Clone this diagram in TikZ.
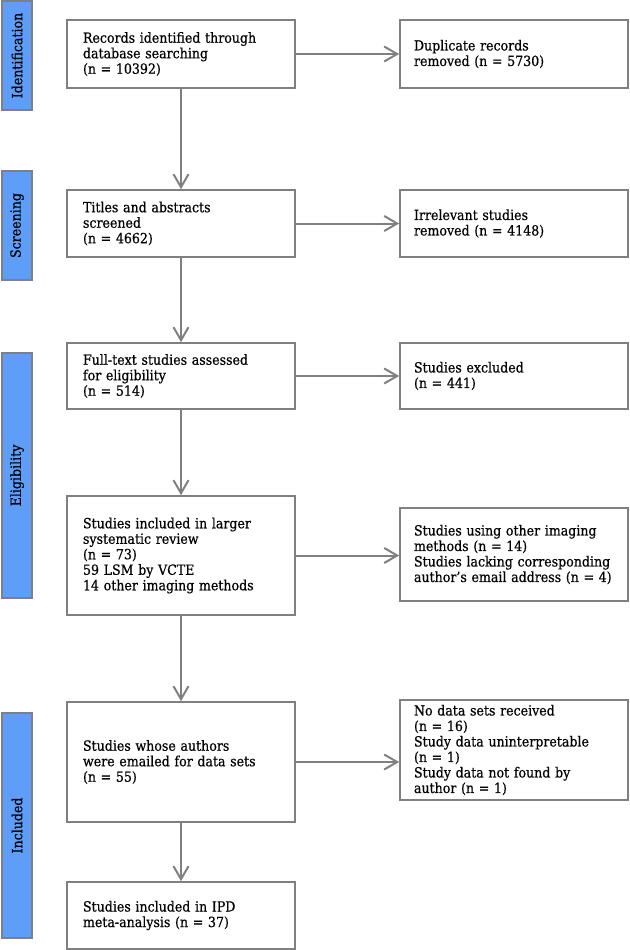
\documentclass[tikz,border=0pt]{standalone}
\usepackage{fontspec}
\setmainfont{DejaVu Serif Condensed}[FakeBold=0.5]
\usepackage{xcolor}
\usepackage{tikz}
\usetikzlibrary{arrows.meta,positioning}
\definecolor{framegray}{HTML}{808080}
\definecolor{phaseblue}{HTML}{5E9DF8}

\begin{document}
\begin{tikzpicture}[
    x=1pt, y=-1pt,
    box/.style={rectangle, draw=framegray, line width=1.6pt, fill=white, text width=196pt, inner xsep=16pt, inner ysep=0pt, minimum width=228pt, minimum height=#1, align=left, font=\fontsize{14}{15.5}\selectfont},
    sidebox/.style={box=#1, text width=200pt, inner xsep=14pt},
    phase/.style={rectangle, draw=framegray, line width=1.4pt, fill=phaseblue, rotate=90, minimum width=#1, minimum height=30pt, inner sep=0pt, font=\fontsize{14}{15.5}\selectfont},
    arrow/.style={-{Straight Barb[length=13pt,width=15pt]}, draw=framegray, line width=2pt}
]
\useasboundingbox (0,0) rectangle (629,950);

% Phase bars
\node[phase=109pt] (ident) at (17,55.5) {Identification};
\node[phase=109pt] (screen) at (17,225.5) {Screening};
\node[phase=245pt] (elig) at (17,475.5) {Eligibility};
\node[phase=225pt] (incl) at (17,825.5) {Included};

% Main flow
\node[box=68pt] (records) at (181,54) {Records identified through\\database searching\\(n = 10392)};
\node[box=67pt] (titles) at (181,223.5) {Titles and abstracts\\screened\\(n = 4662)};
\node[box=66pt] (fulltext) at (181,376) {Full-text studies assessed\\for eligibility\\(n = 514)};
\node[box=119pt] (larger) at (181,555.5) {Studies included in larger\\systematic review\\(n = 73)\\59 LSM by VCTE\\14 other imaging methods};
\node[box=120pt] (emailed) at (181,762) {Studies whose authors\\were emailed for data sets\\(n = 55)};
\node[box=67pt] (ipd) at (181,915.5) {Studies included in IPD\\meta-analysis (n = 37)};

\draw[arrow] (records) -- (titles);
\draw[arrow] (titles) -- (fulltext);
\draw[arrow] (fulltext) -- (larger);
\draw[arrow] (larger) -- (emailed);
\draw[arrow] (emailed) -- (ipd);

% Exclusions
\node[sidebox=68pt] (duplicates) at (514,54) {Duplicate records\\removed (n = 5730)};
\node[sidebox=67pt] (irrelevant) at (514,223.5) {Irrelevant studies\\removed (n = 4148)};
\node[sidebox=66pt] (excluded) at (514,376) {Studies excluded\\(n = 441)};
\node[sidebox=93pt] (otherimg) at (514,554.5) {Studies using other imaging\\methods (n = 14)\\Studies lacking corresponding\\author's email address (n = 4)};
\node[sidebox=100pt] (nodata) at (514,750) {No data sets received\\(n = 16)\\Study data uninterpretable\\(n = 1)\\Study data not found by\\author (n = 1)};

\draw[arrow] (records) -- (duplicates);
\draw[arrow] (titles) -- (irrelevant);
\draw[arrow] (fulltext) -- (excluded);
\draw[arrow] (larger.east) -- (larger.east -| otherimg.west);
\draw[arrow] (emailed.east) -- (emailed.east -| nodata.west);

\end{tikzpicture}
\end{document}
